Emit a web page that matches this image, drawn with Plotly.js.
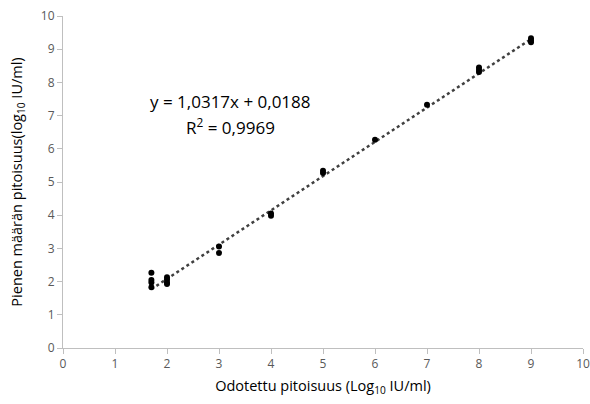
<!DOCTYPE html>
<html>
<head>
<meta charset="utf-8">
<script src="https://cdn.plot.ly/plotly-3.0.1.min.js"></script>
<style>html,body{margin:0;padding:0;background:#fff;}#chart{width:590px;height:404px;}</style>
</head>
<body>
<div id="chart"></div>
<script>
const expected = [1.7,1.7,1.7,1.7, 2,2,2,2, 3,3, 4,4, 5,5, 6, 7, 8,8,8, 9,9,9];
const measured = [2.27,2.05,1.97,1.83, 2.13,2.06,1.98,1.93, 3.06,2.86, 4.05,3.98, 5.34,5.27, 6.27, 7.33, 8.45,8.38,8.31, 9.33,9.26,9.21];
const slope = 1.0317;
const intercept = 0.0188;
const trendX = [1.7, 9];
const trendY = trendX.map(x => slope * x + intercept);
const xTicks = [0,1,2,3,4,5,6,7,8,9,10];
const yTicks = [0,1,2,3,4,5,6,7,8,9,10];

const font = "Open Sans, Liberation Sans, sans-serif";
const data = [
  {x: trendX, y: trendY, mode: 'lines', type: 'scatter',
   line: {color: '#404040', width: 2.5, dash: 'dot'}, hoverinfo: 'skip'},
  {x: expected, y: measured, mode: 'markers', type: 'scatter',
   marker: {color: '#000000', size: 6}}
];
const layout = {
  width: 590, height: 404,
  margin: {l: 63, r: 7, t: 16, b: 56},
  showlegend: false,
  paper_bgcolor: '#fff', plot_bgcolor: '#fff',
  font: {family: font, color: '#595959', size: 12},
  xaxis: {range: [0, 10], tickvals: xTicks, ticktext: xTicks.map(String),
    showgrid: false, zeroline: false, showline: true, linecolor: '#bfbfbf', linewidth: 1,
    ticks: 'outside', ticklen: 5, tickcolor: '#bfbfbf',
    tickfont: {size: 12, color: '#595959', family: font},
    title: {text: 'Odotettu pitoisuus (Log<sub>10</sub> IU/ml)', font: {size: 14.5, color: '#000', family: font}, standoff: 9}},
  yaxis: {range: [0, 10], tickvals: yTicks, ticktext: yTicks.map(String),
    showgrid: false, zeroline: false, showline: true, linecolor: '#bfbfbf', linewidth: 1,
    ticks: 'outside', ticklen: 5, tickcolor: '#bfbfbf',
    tickfont: {size: 12, color: '#595959', family: font},
    title: {text: 'Pienen määrän pitoisuus(log<sub>10</sub> IU/ml)', font: {size: 14.5, color: '#000', family: font}, standoff: 14}},
  annotations: [
    {x: 3.22, y: 7.43, xref: 'x', yref: 'y', text: 'y = 1,0317x + 0,0188', showarrow: false,
     font: {size: 17, color: '#000', family: font}},
    {x: 3.22, y: 6.68, xref: 'x', yref: 'y', text: 'R<sup>2</sup> = 0,9969', showarrow: false,
     font: {size: 17, color: '#000', family: font}}
  ]
};
Plotly.newPlot('chart', data, layout, {displayModeBar: false, staticPlot: true});
</script>
</body>
</html>
